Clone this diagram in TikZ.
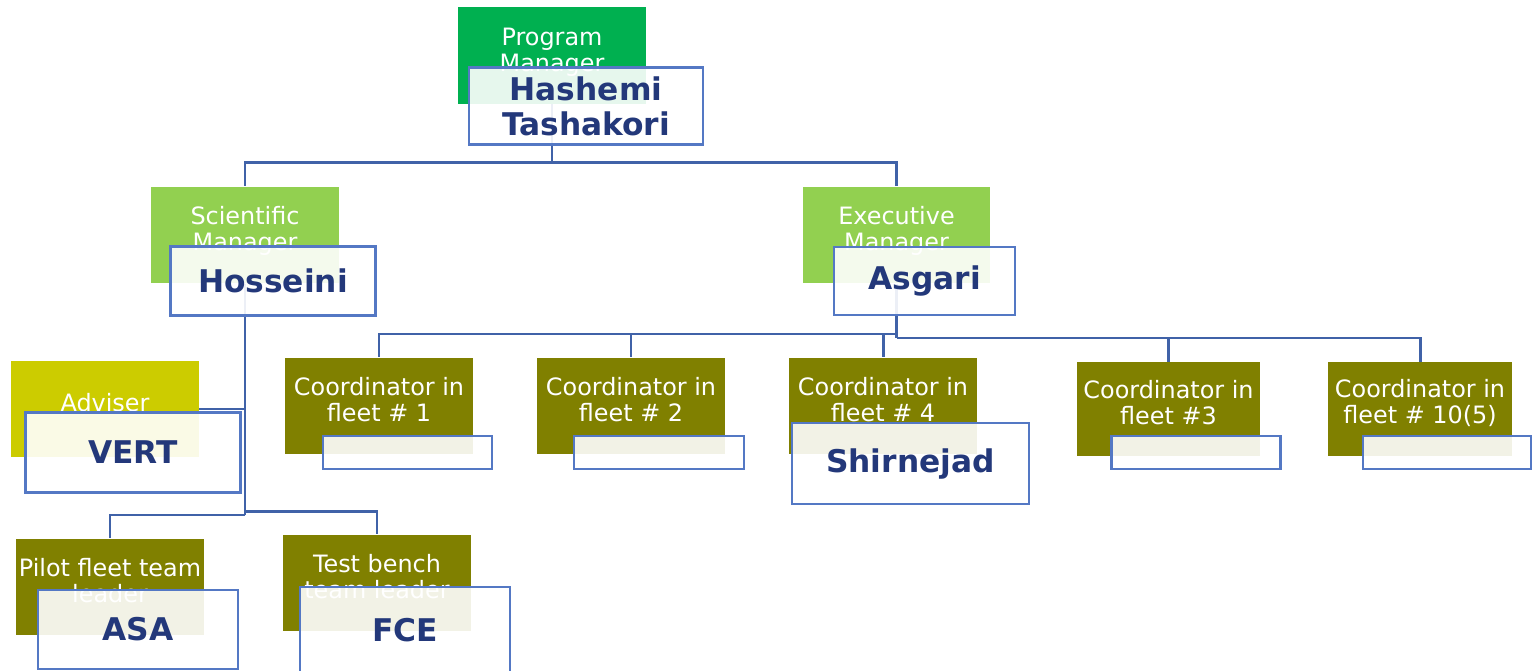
\documentclass[tikz,border=0pt]{standalone}
\usepackage{fontspec}
\setmainfont{DejaVu Sans}
\definecolor{pmGreen}{HTML}{00B050}
\definecolor{mgGreen}{HTML}{92D050}
\definecolor{advYellow}{HTML}{CCCC00}
\definecolor{olive}{HTML}{808000}
\definecolor{nameBlue}{RGB}{35,56,122}
\definecolor{boxBlue}{RGB}{84,120,196}
\definecolor{lineBlue}{RGB}{64,98,168}

\begin{document}
\begin{tikzpicture}[x=0.02cm, y=-0.02cm,
		rolebox/.style = {fill = #1, minimum width = 3.76cm, minimum height = 1.94cm, inner sep = 0pt},
		roletext/.style = {text = white, align = center, yshift = 0.12cm, font = \fontsize{13.6}{14.8}\selectfont},
		namebox/.style = {draw = boxBlue, line width = 1.3pt, fill = white, fill opacity = 0.9, text opacity = 1,
			text = nameBlue, align = center, inner sep = 0pt, font = \fontsize{17.8}{19.9}\selectfont\bfseries},
		link/.style = {draw = lineBlue, line width = 1.7pt}]
	
	\useasboundingbox (0,0) rectangle (1532,671);
	
	% bus heights
	\coordinate (topBus) at (0,163);
	\coordinate (leftBus) at (0,334);
	\coordinate (rightBus) at (0,338);
	\coordinate (lowBusL) at (0,515);
	\coordinate (lowBusR) at (0,511.5);
	
	% role boxes
	\node [rolebox = pmGreen, label = {[name = pmT, roletext, yshift = -0.06cm]center:{Program\\Manager}}] (pm) at (552,55.5) {};
	\node [rolebox = mgGreen, label = {[name = smT, roletext, yshift = -0.03cm]center:{Scientific\\Manager}}] (sm) at (245,235) {};
	\node [rolebox = mgGreen, label = {[name = emT, roletext, yshift = -0.03cm]center:{Executive\\Manager}}] (em) at (896.5,235) {};
	\node [rolebox = advYellow, label = {[name = adT, roletext]center:{Adviser}}] (ad) at (105,409) {};
	
	\begin{scope}[every node/.append style = {rolebox = olive}]
		\node [label = {[name = c1T, roletext]center:{Coordinator in\\fleet \# 1}}] (c1) at (379,406) {};
		\node [label = {[name = c2T, roletext]center:{Coordinator in\\fleet \# 2}}] (c2) at (631,406) {};
		\node [label = {[name = c4T, roletext]center:{Coordinator in\\fleet \# 4}}] (c4) at (883,406) {};
		\node [minimum width = 3.68cm, minimum height = 1.88cm,
			label = {[name = c3T, roletext]center:{Coordinator in\\fleet \#3}}] (c3) at (1168.5,409) {};
		\node [minimum width = 3.7cm, minimum height = 1.88cm,
			label = {[name = c10T, roletext]center:{Coordinator in\\fleet \# 10(5)}}] (c10) at (1420,409) {};
		\node [label = {[name = plT, roletext]center:{Pilot fleet team\\leader}}] (pl) at (110,587) {};
		\node [label = {[name = tbT, roletext]center:{Test bench\\team leader}}] (tb) at (377,583) {};
	\end{scope}
	
	% connectors
	\begin{scope}[link]
		\draw (pm.south) -- (pm |- topBus) -| (sm.north);
		\draw (pm |- topBus) -| (em.north);
		
		\draw (em.south) -- (em |- rightBus);
		\draw (em |- leftBus) -| (c1.north);
		\draw (em |- leftBus) -| (c2.north);
		\draw (em |- leftBus) -| (c4.north);
		\draw (em |- rightBus) -| (c3.north);
		\draw (em |- rightBus) -| (c10.north);
		
		\draw (sm.south) -- (sm |- lowBusL);
		\draw (sm |- ad) -- (ad.east);
		\draw (sm |- lowBusL) -| (pl.north);
		\draw (sm |- lowBusR) -| (tb.north);
	\end{scope}
	
	% name boxes
	\node [namebox, minimum width = 4.68cm, minimum height = 1.54cm] (pmN) at (586,106) {Hashemi\\Tashakori};
	\node [namebox, minimum width = 4.1cm, minimum height = 1.38cm] (smN) at (273,281) {Hosseini};
	\node [namebox, minimum width = 3.62cm, minimum height = 1.36cm] (emN) at (924.5,281) {Asgari};
	\node [namebox, minimum width = 4.3cm, minimum height = 1.6cm] (adN) at (133,452.5) {VERT};
	\node [namebox, minimum width = 3.38cm, minimum height = 0.66cm] (c1N) at (407.5,452.5) {};
	\node [namebox, minimum width = 3.4cm, minimum height = 0.66cm] (c2N) at (659,452.5) {};
	\node [namebox, minimum width = 4.74cm, minimum height = 1.62cm] (c4N) at (910.5,463.5) {Shirnejad};
	\node [namebox, minimum width = 3.38cm, minimum height = 0.66cm] (c3N) at (1196,452.5) {};
	\node [namebox, minimum width = 3.36cm, minimum height = 0.66cm] (c10N) at (1447,452.5) {};
	\node [namebox, minimum width = 4cm, minimum height = 1.58cm] (plN) at (138,629.5) {ASA};
	\node [namebox, minimum width = 4.2cm, minimum height = 1.72cm] (tbN) at (405,630) {FCE};
\end{tikzpicture}
\end{document}
